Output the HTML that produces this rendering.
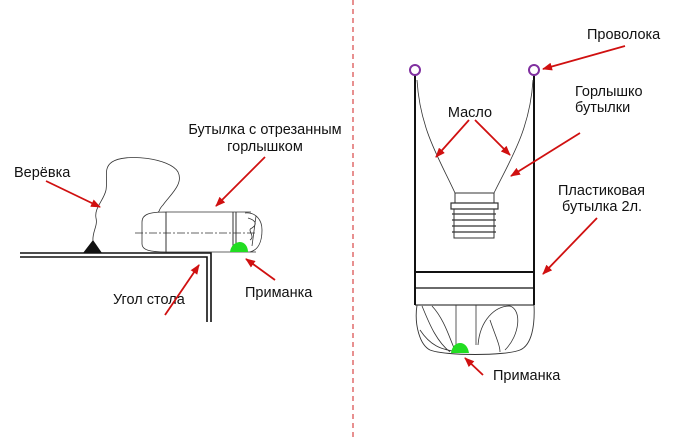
<!DOCTYPE html>
<html><head><meta charset="utf-8"><style>
html,body{margin:0;padding:0;background:#fff;}
svg{display:block}
text{font-family:"Liberation Sans",sans-serif;font-size:14.5px;fill:#111;}
</style></head><body>
<svg width="700" height="438" viewBox="0 0 700 438" xmlns="http://www.w3.org/2000/svg">
<defs>
<marker id="a" markerWidth="10" markerHeight="8" refX="9" refY="4" orient="auto" markerUnits="userSpaceOnUse">
<path d="M0,0 L10,4 L0,8 Z" fill="#d01010"/></marker>
</defs>
<line x1="353" y1="0" x2="353" y2="438" stroke="#d02020" stroke-width="1" stroke-dasharray="5,4"/>
<path d="M20,253 H211 V322" fill="none" stroke="#111" stroke-width="1.6"/>
<path d="M20,257 H207 V322" fill="none" stroke="#111" stroke-width="1.6"/>
<path d="M83,253 L93,240 L102,253 Z" fill="#111"/>
<path d="M93,241 C92,232 98,226 96,218 C94,208 104,200 106,190 C108,178 103,168 112,162 C125,153 170,158 178,172 C184,184 170,195 163,205 C158,210 160,212 158,212" fill="none" stroke="#333" stroke-width="0.8"/>
<path d="M166,212 H251 M166,252 H256" stroke="#333" stroke-width="0.8"/>
<path d="M166,212 C150,212 142,214 142,222 V244 C142,250 150,252 166,252 Z" fill="none" stroke="#333" stroke-width="0.8"/>
<line x1="166" y1="212" x2="166" y2="252" stroke="#333" stroke-width="1"/>
<line x1="233" y1="212" x2="233" y2="250" stroke="#333" stroke-width="1"/>
<line x1="236" y1="212" x2="236" y2="250" stroke="#333" stroke-width="1"/>
<line x1="135" y1="233" x2="255" y2="233" stroke="#333" stroke-width="0.7" stroke-dasharray="8,2,2,2"/>
<path d="M245,213 C256,212 262,220 262,230 C262,242 258,250 250,252 M248,218 C255,220 258,224 252,228 C246,230 256,236 250,240 M256,216 L252,246" fill="none" stroke="#333" stroke-width="0.8"/>
<path d="M230,252 C231,244 237,242 240,242 C245,242 248,247 248,252 Z" fill="#22dd22"/>
<text x="14" y="177">Верёвка</text>
<text x="265" y="134" text-anchor="middle">Бутылка с отрезанным</text>
<text x="265" y="151" text-anchor="middle">горлышком</text>
<text x="113" y="304">Угол стола</text>
<text x="245" y="297">Приманка</text>
<g stroke="#d01010" stroke-width="1.8" marker-end="url(#a)">
<line x1="46" y1="181" x2="100" y2="207"/>
<line x1="265" y1="157" x2="216" y2="206"/>
<line x1="165" y1="315" x2="199" y2="265"/>
<line x1="275" y1="280" x2="246" y2="259"/>
</g>
<line x1="415" y1="75" x2="415" y2="305" stroke="#111" stroke-width="2"/>
<line x1="534" y1="75" x2="534" y2="305" stroke="#111" stroke-width="2"/>
<circle cx="415" cy="70" r="5" fill="none" stroke="#8030a0" stroke-width="2"/>
<circle cx="534" cy="70" r="5" fill="none" stroke="#8030a0" stroke-width="2"/>
<line x1="415" y1="272" x2="534" y2="272" stroke="#111" stroke-width="2"/>
<line x1="415" y1="288" x2="534" y2="288" stroke="#111" stroke-width="1.2"/>
<line x1="415" y1="305" x2="534" y2="305" stroke="#111" stroke-width="1"/>
<path d="M417,80 C420,130 440,160 455,193 M533,80 C530,130 510,160 494,193" fill="none" stroke="#333" stroke-width="0.8"/>
<path d="M455,193 H494 V203 H455 Z" fill="none" stroke="#333" stroke-width="1"/>
<path d="M451,203 H498 V209 H451 Z" fill="none" stroke="#333" stroke-width="1.2"/>
<path d="M454,209 V238 H494 V209" fill="none" stroke="#333" stroke-width="1"/>
<path d="M452,214 H496 M452,220 H496 M452,226 H496 M452,232 H496" stroke="#333" stroke-width="1.3"/>
<path d="M417,305 C414,325 420,345 430,350 C445,356 505,356 520,350 C532,345 535,325 534,305" fill="none" stroke="#333" stroke-width="0.9"/>
<path d="M422,306 C428,320 435,340 450,352 M432,306 C445,320 450,340 455,350 M456,305 V345 M476,305 V345 M478,345 C480,320 495,306 510,306 C522,310 520,335 505,350 M490,320 C495,335 500,345 500,352 M420,330 C430,345 440,350 460,352" fill="none" stroke="#333" stroke-width="0.8"/>
<path d="M451,353 C452,346 456,343 460,343 C465,343 468,347 469,353 Z" fill="#22dd22"/>
<text x="587" y="39">Проволока</text>
<text x="470" y="117" text-anchor="middle">Масло</text>
<text x="575" y="96">Горлышко</text>
<text x="575" y="112">бутылки</text>
<text x="558" y="195">Пластиковая</text>
<text x="562" y="211">бутылка 2л.</text>
<text x="493" y="380">Приманка</text>
<g stroke="#d01010" stroke-width="1.8" marker-end="url(#a)">
<line x1="625" y1="46" x2="543" y2="69"/>
<line x1="469" y1="120" x2="436" y2="157"/>
<line x1="475" y1="120" x2="510" y2="155"/>
<line x1="580" y1="133" x2="511" y2="176"/>
<line x1="597" y1="218" x2="543" y2="274"/>
<line x1="483" y1="375" x2="465" y2="358"/>
</g>
</svg>
</body></html>
